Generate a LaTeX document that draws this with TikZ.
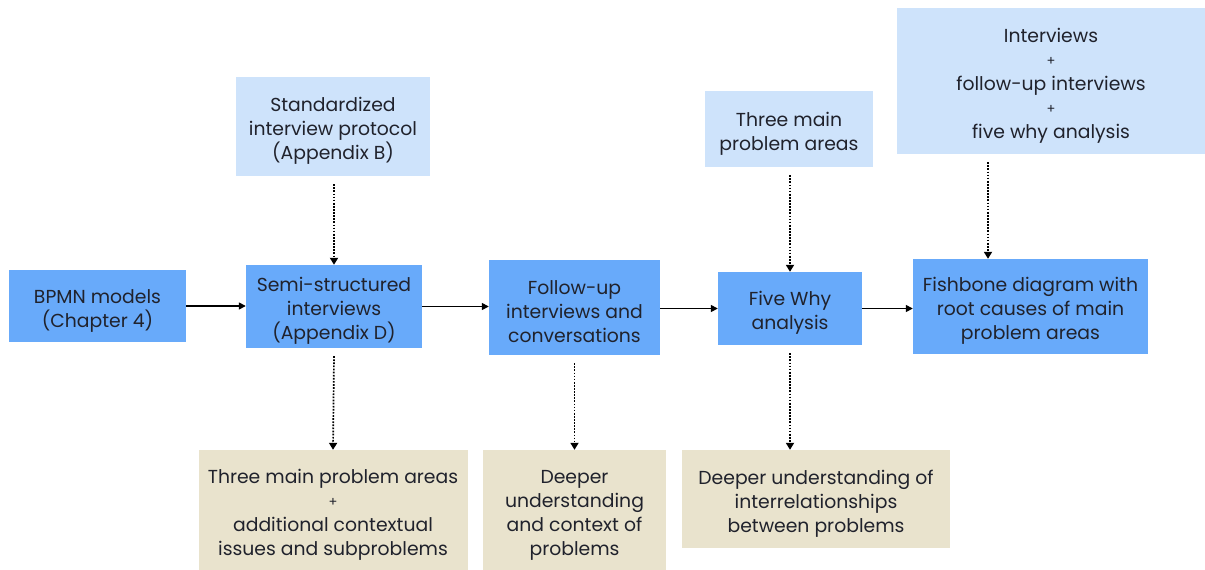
\documentclass[tikz,border=0pt]{standalone}
\usepackage{fontspec}
\setmainfont{Poppins}
\usetikzlibrary{arrows.meta}
\definecolor{stepblue}{RGB}{104,170,250}
\definecolor{inblue}{RGB}{206,227,251}
\definecolor{outtan}{RGB}{233,227,205}
\definecolor{ink}{RGB}{32,34,44}
% small plus sign between combined sources
\newcommand{\plusline}{{\fontsize{13}{24}\selectfont\raisebox{1pt}{+}}}
% tall strut that sets the text a little low in its box
\newcommand{\lowstrut}{\rule{0pt}{23pt}}
\begin{document}
\begin{tikzpicture}[x=1pt,y=-1pt,
  box/.style={rectangle,inner sep=0pt,align=center,text=ink,
    font=\fontsize{18.8}{24}\selectfont},
  stepbox/.style={box,fill=stepblue},
  inbox/.style={box,fill=inblue},
  outbox/.style={box,fill=outtan},
  flow/.style={-{Triangle[length=7pt,width=7pt]},line width=1.5pt,draw=black},
  feed/.style={-{Triangle[length=7pt,width=8pt]},line width=1.7pt,draw=black,
    dash pattern=on 1.7pt off 1.4pt}]
\useasboundingbox (0,0) rectangle (1205,570);
% process steps
\node[stepbox,minimum width=177,minimum height=72] (bpmn) at (97.5,306) {\lowstrut BPMN models\\(Chapter 4)};
\node[stepbox,minimum width=176,minimum height=83] (semi) at (334,306.5) {\lowstrut Semi-structured\\interviews\\(Appendix D)};
\node[stepbox,minimum width=171,minimum height=95] (follow) at (574.5,307.5) {\lowstrut Follow-up\\interviews and\\conversations};
\node[stepbox,minimum width=144,minimum height=73] (five) at (790,308.5) {\lowstrut Five Why\\analysis};
\node[stepbox,minimum width=235,minimum height=95] (fish) at (1030.5,306.5) {\lowstrut Fishbone diagram with\\root causes of main\\problem areas};
% inputs
\node[inbox,minimum width=194,minimum height=99] (proto) at (333,126.5) {\lowstrut Standardized\\interview protocol\\(Appendix B)};
\node[inbox,minimum width=168,minimum height=76] (areas) at (789,129) {\lowstrut Three main\\problem areas};
\node[inbox,minimum width=308,minimum height=146] (allin) at (1051,81) {\lowstrut Interviews\\\plusline\\follow-up interviews\\\plusline\\five why analysis};
% outputs
\node[outbox,minimum width=269,minimum height=120] (out1) at (333,510) {\lowstrut Three main problem areas\\\plusline\\additional contextual\\issues and subproblems};
\node[outbox,minimum width=183,minimum height=120] (out2) at (574.5,510) {\lowstrut Deeper\\understanding\\and context of\\problems};
\node[outbox,minimum width=268,minimum height=98] (out3) at (816,499) {\lowstrut Deeper understanding of\\interrelationships\\between problems};
% main flow
\draw[flow] (bpmn.east) -- (semi.west |- bpmn.east);
\draw[flow] (semi.east) -- (follow.west |- semi.east);
\draw[flow] (follow.east |- five.west) -- (five.west);
\draw[flow] (five.east) -- (fish.west |- five.east);
% inputs and outputs
\draw[feed] (proto.south -| semi.south) ++(0,8) -- (semi.north);
\draw[feed] (semi.south) ++(0,8) -- (out1.north);
\draw[feed] (follow.south) ++(0,8) -- (follow.south |- out2.north);
\draw[feed] (areas.south -| five.north) ++(0,8) -- (five.north);
\draw[feed] (allin.south -| 988,0) ++(0,8) -- (fish.north -| 988,0);
\draw[feed] (five.south) ++(0,8) -- (five.south |- out3.north);
\end{tikzpicture}
\end{document}
